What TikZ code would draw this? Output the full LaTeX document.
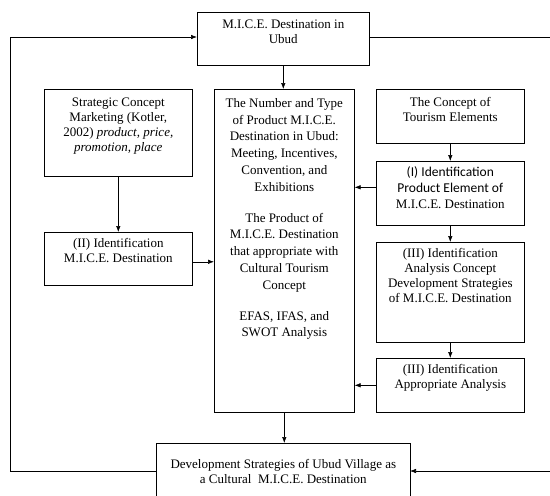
\documentclass[tikz,border=0pt]{standalone}
\usepackage{fontspec}
\setmainfont{Liberation Serif}
\newfontfamily\calfont{Carlito}
\usetikzlibrary{arrows.meta,positioning}

% text of a box: width, height, first baseline
\newcommand{\boxtxt}[4]{\parbox[t][#2][t]{#1}{\centering\rule{0pt}{#3}#4}}

\tikzset{
  blk/.style={draw, anchor=north west, inner sep=0pt}
}

\begin{document}
\begin{tikzpicture}[x=1pt, y=-1pt, >={Latex[length=6pt,width=4.5pt]}, line width=0.6pt,
  font=\fontsize{13}{15.2}\selectfont]
  \useasboundingbox (0,0) rectangle (550,496);

  \node[blk] (dest) at (197,12) {\boxtxt{172pt}{53pt}{16pt}{M.I.C.E. Destination in\\ Ubud}};
  \node[blk] (strat) at (44,89) {\boxtxt{148pt}{87pt}{17pt}{Strategic Concept\\ Marketing (Kotler,\\ 2002) \emph{product, price,}\\ \emph{promotion, place}}};
  \node[blk] (ident2) at (44,232) {\boxtxt{148pt}{53pt}{15pt}{(II) Identification\\ M.I.C.E. Destination}};
  \node[blk] (prod) at (214,89) {\boxtxt{140pt}{323pt}{18pt}{\baselineskip=16.8pt
    The Number and Type\\ of Product M.I.C.E.\\ Destination in Ubud:\\ Meeting, Incentives,\\ Convention, and\\ Exhibitions\\[14pt]
    The Product of\\ M.I.C.E. Destination\\ that appropriate with\\ Cultural Tourism\\ Concept\\[14pt]
    EFAS, IFAS, and\\ SWOT Analysis}};
  \node[blk] (tour) at (376,89) {\boxtxt{148pt}{54pt}{17pt}{The Concept of\\ Tourism Elements}};
  \node[blk] (ident1) at (376,161) {\boxtxt{148pt}{64pt}{15pt}{\baselineskip=16pt
    {\calfont\fontsize{13.5}{16}\selectfont (I) Identification\\ Product Element of}\\ M.I.C.E. Destination}};
  \node[blk] (ident3) at (376,242) {\boxtxt{148pt}{100pt}{15pt}{(III) Identification\\ Analysis Concept\\ Development Strategies\\ of M.I.C.E. Destination}};
  \node[blk] (ident4) at (376,358) {\boxtxt{148pt}{54pt}{15pt}{(III) Identification\\ Appropriate Analysis}};
  \node[blk] (devt) at (156,443) {\boxtxt{254pt}{70pt}{25pt}{Development Strategies of Ubud Village as\\ a Cultural\ \ M.I.C.E. Destination}};

  % loop corners
  \coordinate (devtl) at (156,471);
  \coordinate (devtr) at (410,471);
  \coordinate (lowl) at (10,471);
  \coordinate (upl) at (10,37);
  \coordinate (upr) at (556,37);
  \coordinate (lowr) at (556,471);

  \draw[->] (dest.south) -- (dest.south |- prod.north);
  \draw[->] (strat.south) -- (ident2.north);
  \draw[->] ([yshift=-3pt]ident2.east) -- ([yshift=-3pt]ident2.east -| prod.west);
  \draw[->] (tour.south) -- (ident1.north);
  \draw[->] ([yshift=6pt]ident1.west) -- ([yshift=6pt]ident1.west -| prod.east);
  \draw[->] (ident1.south) -- (ident3.north);
  \draw[->] (ident3.south) -- (ident4.north);
  \draw[->] (ident4.west) -- (ident4.west -| prod.east);
  \draw[->] (prod.south) -- (prod.south |- devt.north);

  \draw[->] (devtl) -- (lowl) -- (upl) -- (upl -| dest.west);
  \draw[->] (upl -| dest.east) -- (upr) -- (lowr) -- (devtr);
\end{tikzpicture}
\end{document}
